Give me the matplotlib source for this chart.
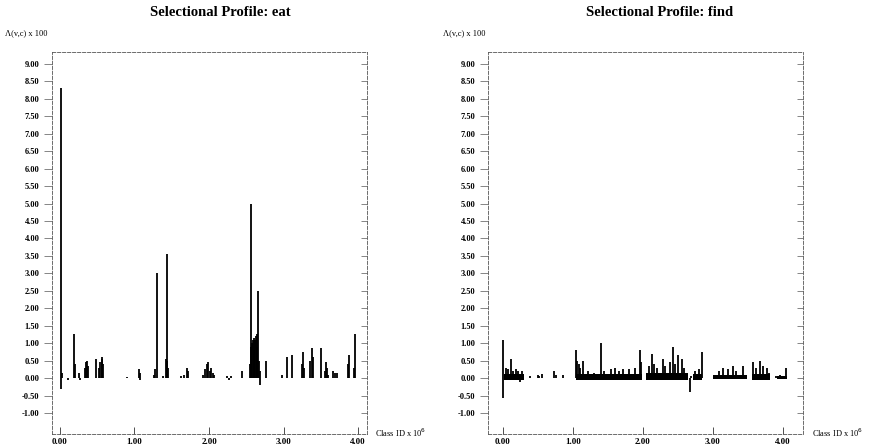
import matplotlib
matplotlib.use("Agg")
import matplotlib.pyplot as plt
import numpy as np

plt.rcParams['font.family'] = ['Liberation Serif', 'DejaVu Serif']

# Selectional profile for "eat": class id (x 10^6) and value (x 100)
eat_ids = [0.01, 0.02, 0.03, 0.11, 0.19, 0.20, 0.26, 0.27, 0.34, 0.35, 0.36, 0.37,
           0.48, 0.53, 0.54, 0.56, 0.57, 0.58, 0.90, 1.06, 1.07, 1.08, 1.26, 1.28,
           1.30, 1.38, 1.42, 1.43, 1.44, 1.45, 1.62, 1.66, 1.71, 1.72, 1.92, 1.95,
           1.97, 1.99, 2.01, 2.03, 2.05, 2.07, 2.24, 2.27, 2.30, 2.44, 2.55, 2.56,
           2.57, 2.58, 2.59, 2.60, 2.61, 2.62, 2.63, 2.64, 2.65, 2.66, 2.67, 2.68,
           2.69, 2.77, 2.98, 3.05, 3.12, 3.25, 3.26, 3.27, 3.36, 3.38, 3.40, 3.50,
           3.55, 3.57, 3.58, 3.60, 3.66, 3.69, 3.72, 3.87, 3.88, 3.95, 3.96]
eat_vals = [-0.30, 8.30, 0.15, -0.05, 1.25, 0.40, 0.15, -0.05, 0.30, 0.45, 0.50, 0.35,
            0.55, 0.30, 0.45, 0.55, 0.60, 0.40, 0.03, 0.25, 0.15, -0.05, 0.10, 0.25,
            3.00, 0.05, 0.55, 3.55, 0.50, 0.30, 0.05, 0.10, 0.30, 0.20, 0.10, 0.25,
            0.40, 0.45, 0.20, 0.30, 0.15, 0.10, 0.05, -0.05, 0.05, 0.20, 0.40, 5.00,
            0.90, 1.00, 1.10, 0.80, 1.15, 1.10, 1.20, 0.90, 1.25, 2.50, 0.50, 0.20,
            -0.20, 0.50, 0.10, 0.60, 0.65, 0.40, 0.75, 0.30, 0.50, 0.85, 0.60, 0.85,
            0.20, 0.45, 0.30, 0.10, 0.20, 0.15, 0.15, 0.40, 0.65, 0.30, 1.25]

# Selectional profile for "find"
find_ids = [0.00, 0.005, 0.04, 0.07, 0.11, 0.14, 0.18, 0.22, 0.24, 0.27, 0.39, 0.50,
            0.52, 0.56, 0.73, 0.76, 0.86, 1.04, 1.06, 1.08, 1.10, 1.14, 1.22, 1.30,
            1.40, 1.45, 1.55, 1.60, 1.66, 1.72, 1.80, 1.88, 1.96, 1.97, 2.08, 2.13,
            2.16, 2.20, 2.29, 2.31, 2.38, 2.43, 2.46, 2.50, 2.56, 2.59, 2.67, 2.68,
            2.75, 2.80, 2.84, 3.02, 3.08, 3.15, 3.22, 3.28, 3.33, 3.43, 3.57, 3.62,
            3.67, 3.72, 3.77, 3.80, 3.90, 3.96, 4.05]
find_vals = [1.10, -0.57, 0.30, 0.25, 0.55, 0.20, 0.25, 0.20, -0.10, 0.20, 0.05, 0.10,
             0.05, 0.12, 0.20, 0.10, 0.10, 0.80, 0.50, 0.40, 0.30, 0.50, 0.20, 0.15,
             1.00, 0.20, 0.25, 0.30, 0.20, 0.25, 0.25, 0.30, 0.80, 0.45, 0.35, 0.70,
             0.40, 0.30, 0.55, 0.35, 0.45, 0.90, 0.40, 0.65, 0.55, 0.30, -0.40, 0.05,
             0.20, 0.25, 0.75, 0.10, 0.20, 0.30, 0.25, 0.35, 0.20, 0.35, 0.45, 0.30,
             0.50, 0.35, 0.30, 0.15, 0.05, 0.10, 0.30]

# dense low-level runs in the "find" profile
find_band_start = [0.02, 1.05, 2.05, 2.71, 3.00, 3.56, 3.92]
find_band_end = [0.30, 1.98, 2.64, 2.84, 3.48, 3.81, 4.06]
find_band_top = [0.12, 0.12, 0.14, 0.12, 0.08, 0.12, 0.06]
find_band_bottom = [-0.05, -0.05, -0.06, -0.04, -0.03, -0.05, -0.02]

yticks = np.arange(-1.0, 9.01, 0.5)
xticks = [0, 1, 2, 3, 4]

fig = plt.figure(figsize=(8.71, 4.46), dpi=100)


def style_axes(ax, xlim):
    ax.set_xlim(*xlim)
    ax.set_ylim(-1.60, 9.34)
    for s in ax.spines.values():
        s.set_linestyle((0, (4, 2)))
        s.set_linewidth(0.6)
        s.set_color('#555555')
    ax.set_yticks(yticks)
    ax.set_yticklabels(['%.2f' % v for v in yticks])
    ax.set_xticks(xticks)
    ax.set_xticklabels(['%.2f' % v for v in xticks])
    ax.tick_params(axis='y', direction='out', length=6, width=0.5,
                   color='#555555', labelsize=6, pad=3)
    ax.tick_params(axis='x', direction='in', length=5, width=0.6,
                   color='#333333', labelsize=6.5, pad=3)
    for lab in ax.get_xticklabels() + ax.get_yticklabels():
        lab.set_fontweight('bold')
    # inward ticks along the right frame
    rt = ax.twinx()
    rt.set_ylim(ax.get_ylim())
    rt.set_yticks(yticks)
    rt.tick_params(axis='y', direction='in', length=4, width=0.5,
                   color='#555555', labelright=False)
    for s in rt.spines.values():
        s.set_visible(False)


ax1 = fig.add_axes([52 / 871, 1 - 434 / 446, 315 / 871, 382 / 446])
ax1.vlines(eat_ids, 0, eat_vals, color='black', linewidth=1.3)
style_axes(ax1, (-0.107, 4.12))

ax2 = fig.add_axes([488 / 871, 1 - 434 / 446, 315 / 871, 382 / 446])
ax2.bar(find_band_start,
        np.array(find_band_top) - np.array(find_band_bottom),
        width=np.array(find_band_end) - np.array(find_band_start),
        bottom=find_band_bottom, align='edge', color='black', linewidth=0)
ax2.vlines(find_ids, 0, find_vals, color='black', linewidth=1.3)
style_axes(ax2, (-0.214, 4.286))

fig.text(220 / 871, 1 - 12 / 446, 'Selectional Profile: eat', ha='center',
         va='center', fontsize=10.5, fontweight='bold')
fig.text(660 / 871, 1 - 12 / 446, 'Selectional Profile: find', ha='center',
         va='center', fontsize=10.5, fontweight='bold')
fig.text(5 / 871, 1 - 33 / 446, 'Λ(v,c) x 100', ha='left', va='center', fontsize=6)
fig.text(443 / 871, 1 - 33 / 446, 'Λ(v,c) x 100', ha='left', va='center', fontsize=6)
fig.text(375 / 871, 1 - 433 / 446, 'Class ID x 10$^6$', ha='left', va='center',
         fontsize=6)
fig.text(812 / 871, 1 - 433 / 446, 'Class ID x 10$^6$', ha='left', va='center',
         fontsize=6)

fig.savefig('out.png', dpi=100)
